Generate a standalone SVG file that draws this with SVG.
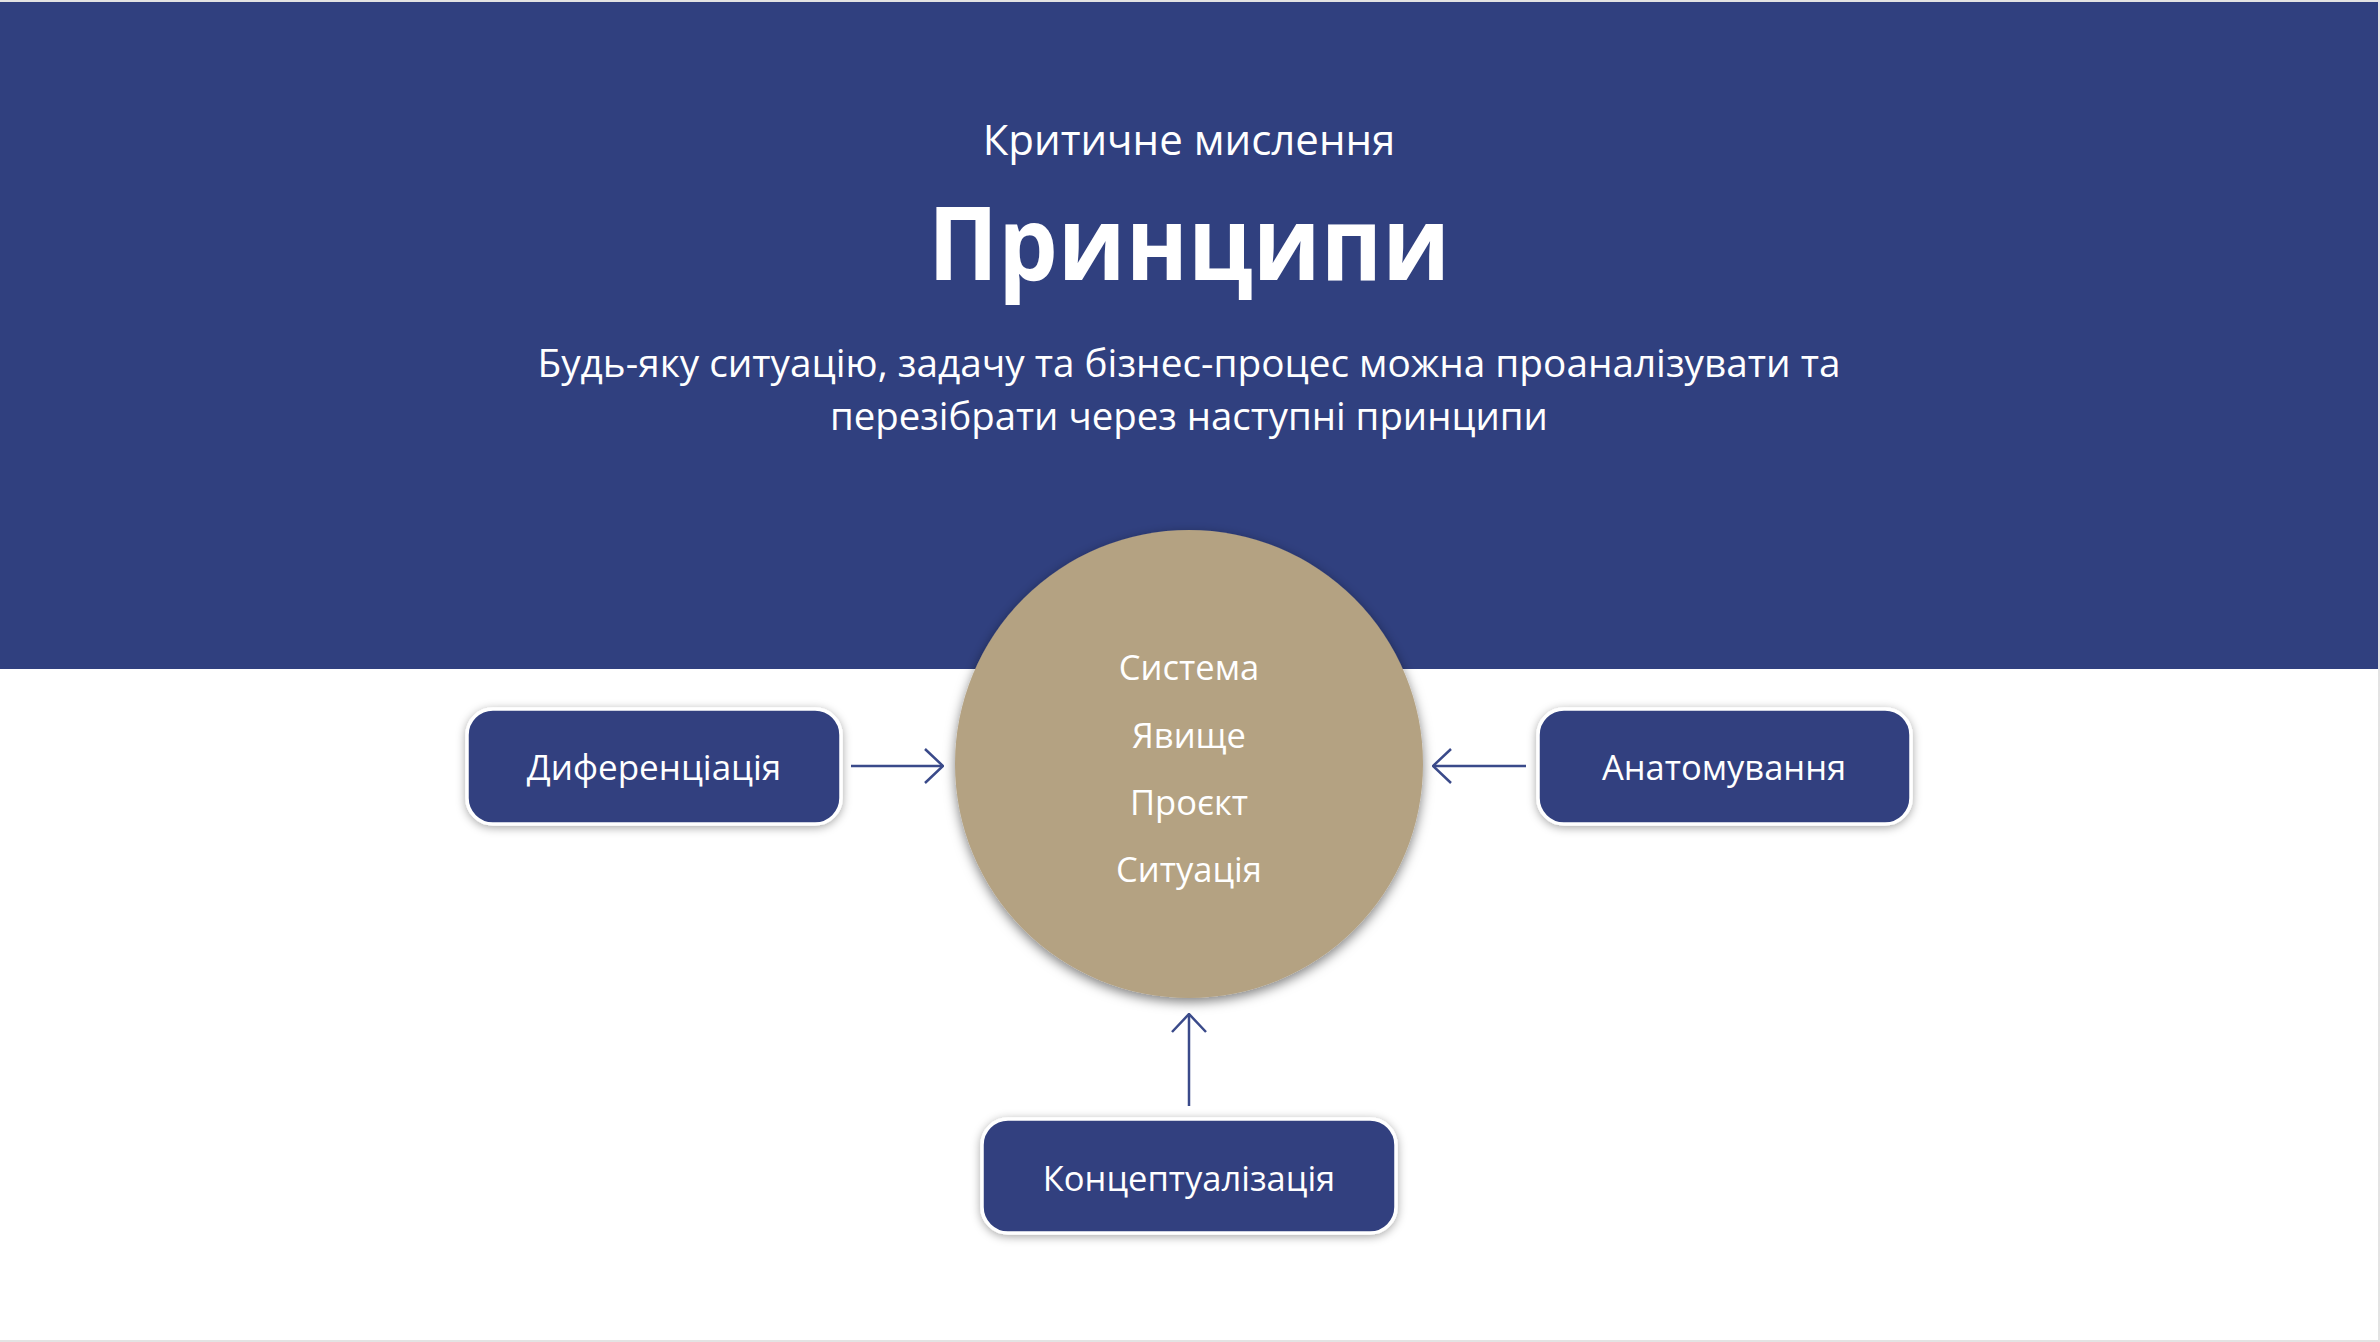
<svg xmlns="http://www.w3.org/2000/svg" width="2380" height="1342" viewBox="0 0 2380 1342">
  <defs>
    <style>
      .t { font-family: "Open Sans", "Noto Sans", "DejaVu Sans", sans-serif; fill: #ffffff; text-anchor: middle; }
      .box { fill: #30407F; stroke: #ffffff; stroke-width: 3.5; }
      .conn { stroke: #3A4A8A; stroke-width: 2.5; fill: none; }
    </style>
    <filter id="boxShadow" x="-20%" y="-40%" width="140%" height="180%">
      <feDropShadow dx="0" dy="2" stdDeviation="5" flood-color="#000000" flood-opacity="0.35"/>
    </filter>
    <filter id="circleShadow" x="-20%" y="-20%" width="140%" height="140%">
      <feDropShadow dx="0" dy="4" stdDeviation="6" flood-color="#000000" flood-opacity="0.5"/>
    </filter>
    <marker id="chev" viewBox="0 0 20 36" refX="19" refY="18" markerWidth="20" markerHeight="36" markerUnits="userSpaceOnUse" orient="auto">
      <path d="M1,1 L19,18 L1,35" fill="none" stroke="#3A4A8A" stroke-width="2.5"/>
    </marker>
  </defs>

  <rect x="0" y="0" width="2380" height="1342" fill="#ffffff"/>
  <path d="M0,1 H2379 V1341 H0" fill="none" stroke="#e3e3e3" stroke-width="2"/>
  <rect id="header" x="0" y="2" width="2378" height="667" fill="#30407F"/>

  <g id="title">
    <text class="t" x="1189" y="155" font-size="42">Критичне мислення</text>
    <text class="t" x="1189" y="280" font-size="102" font-weight="bold" textLength="522" lengthAdjust="spacingAndGlyphs">Принципи</text>
    <text class="t" x="1189" y="377" font-size="38" font-weight="500" textLength="1303" lengthAdjust="spacingAndGlyphs">Будь-яку ситуацію, задачу та бізнес-процес можна проаналізувати та</text>
    <text class="t" x="1189" y="430" font-size="38" font-weight="500" textLength="718" lengthAdjust="spacingAndGlyphs">перезібрати через наступні принципи</text>
  </g>

  <g id="connectors">
    <line class="conn" x1="851" y1="766" x2="943" y2="766" marker-end="url(#chev)"/>
    <line class="conn" x1="1526" y1="766" x2="1433" y2="766" marker-end="url(#chev)"/>
    <line class="conn" x1="1189" y1="1106" x2="1189" y2="1014" marker-end="url(#chev)"/>
  </g>

  <g id="center">
    <circle cx="1189" cy="764" r="234" fill="#B4A282" filter="url(#circleShadow)"/>
    <text class="t" x="1189" y="680" font-size="34.5">Система</text>
    <text class="t" x="1189" y="748" font-size="34.5">Явище</text>
    <text class="t" x="1189" y="815" font-size="34.5">Проєкт</text>
    <text class="t" x="1189" y="882" font-size="34.5">Ситуація</text>
  </g>

  <g id="node-diff">
    <rect class="box" x="467" y="709" width="374" height="115" rx="26" filter="url(#boxShadow)"/>
    <text class="t" x="654" y="780" font-size="35">Диференціація</text>
  </g>

  <g id="node-anat">
    <rect class="box" x="1538" y="709" width="373" height="115" rx="26" filter="url(#boxShadow)"/>
    <text class="t" x="1724" y="780" font-size="34.5">Анатомування</text>
  </g>

  <g id="node-concept">
    <rect class="box" x="982" y="1119" width="414" height="114" rx="26" filter="url(#boxShadow)"/>
    <text class="t" x="1189" y="1191" font-size="34.5">Концептуалізація</text>
  </g>
</svg>
